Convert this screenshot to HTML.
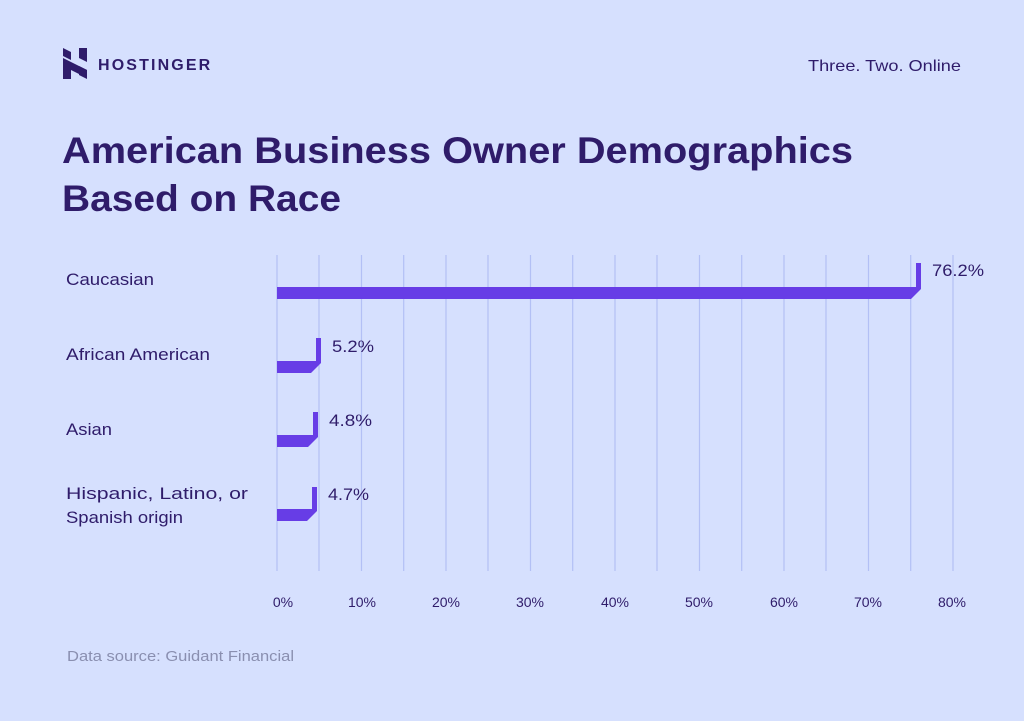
<!DOCTYPE html>
<html><head><style>
body{margin:0;width:1024px;height:716px;background:#d6e0fe;font-family:"Liberation Sans",sans-serif;color:#2f1c6a;overflow:hidden}
</style></head><body>
<svg width="1024" height="716" xmlns="http://www.w3.org/2000/svg">
<rect width="1024" height="716" fill="#d6e0fe"/>
<g fill="#2f1c6a">
<polygon points="63,48 71,52 71,60 63,56"/>
<polygon points="63,58 87,70 87,78 63,66 63,58"/>
<polygon points="63,62 71,66 71,79 63,79"/>
<polygon points="79,48 87,48 87,62 79,58"/>
<polygon points="79,66 87,70 87,79 79,75"/>
</g>
<text x="98" y="70" font-size="16" font-weight="bold" letter-spacing="1.8" textLength="114" lengthAdjust="spacing" fill="#2f1c6a">HOSTINGER</text>
<text x="808" y="71" font-size="16" textLength="153" lengthAdjust="spacingAndGlyphs" fill="#2f1c6a">Three. Two. Online</text>
<text x="62" y="163" font-size="37" font-weight="bold" textLength="791" lengthAdjust="spacingAndGlyphs" fill="#2f1c6a">American Business Owner Demographics</text>
<text x="62" y="211" font-size="37" font-weight="bold" textLength="279" lengthAdjust="spacingAndGlyphs" fill="#2f1c6a">Based on Race</text>
<g stroke="#b3c0f5" stroke-width="1.2">
<line x1="277" y1="255" x2="277" y2="571"/><line x1="319" y1="255" x2="319" y2="571"/><line x1="361.5" y1="255" x2="361.5" y2="571"/><line x1="403.7" y1="255" x2="403.7" y2="571"/><line x1="446" y1="255" x2="446" y2="571"/><line x1="488" y1="255" x2="488" y2="571"/><line x1="530.5" y1="255" x2="530.5" y2="571"/><line x1="572.7" y1="255" x2="572.7" y2="571"/><line x1="615" y1="255" x2="615" y2="571"/><line x1="657" y1="255" x2="657" y2="571"/><line x1="699.5" y1="255" x2="699.5" y2="571"/><line x1="741.7" y1="255" x2="741.7" y2="571"/><line x1="784" y1="255" x2="784" y2="571"/><line x1="826" y1="255" x2="826" y2="571"/><line x1="868.5" y1="255" x2="868.5" y2="571"/><line x1="910.7" y1="255" x2="910.7" y2="571"/><line x1="953" y1="255" x2="953" y2="571"/>
</g>
<g fill="#673de6">
<polygon points="277,287 916,287 916,263 921,263 921,289 911,299 277,299"/>
<polygon points="277,361 316,361 316,338 321,338 321,363 311,373 277,373"/>
<polygon points="277,435 313,435 313,412 318,412 318,437 308,447 277,447"/>
<polygon points="277,509 312,509 312,487 317,487 317,511 307,521 277,521"/>
</g>
<g font-size="17" fill="#2f1c6a">
<text x="66" y="285" textLength="88" lengthAdjust="spacingAndGlyphs">Caucasian</text>
<text x="66" y="360" textLength="144" lengthAdjust="spacingAndGlyphs">African American</text>
<text x="66" y="435" textLength="46" lengthAdjust="spacingAndGlyphs">Asian</text>
<text x="66" y="499" textLength="182" lengthAdjust="spacingAndGlyphs">Hispanic, Latino, or</text>
<text x="66" y="523" textLength="117" lengthAdjust="spacingAndGlyphs">Spanish origin</text>
<text x="932" y="276" textLength="52" lengthAdjust="spacingAndGlyphs">76.2%</text>
<text x="332" y="352" textLength="42" lengthAdjust="spacingAndGlyphs">5.2%</text>
<text x="329" y="426" textLength="43" lengthAdjust="spacingAndGlyphs">4.8%</text>
<text x="328" y="500" textLength="41" lengthAdjust="spacingAndGlyphs">4.7%</text>
</g>
<g font-size="14" fill="#2f1c6a" text-anchor="middle">
<text x="283" y="607">0%</text><text x="362" y="607">10%</text><text x="446" y="607">20%</text><text x="530" y="607">30%</text><text x="615" y="607">40%</text><text x="699" y="607">50%</text><text x="784" y="607">60%</text><text x="868" y="607">70%</text><text x="952" y="607">80%</text>
</g>
<text x="67" y="661" font-size="15" textLength="227" lengthAdjust="spacingAndGlyphs" fill="#8a8fb0">Data source: Guidant Financial</text>
</svg>
</body></html>
